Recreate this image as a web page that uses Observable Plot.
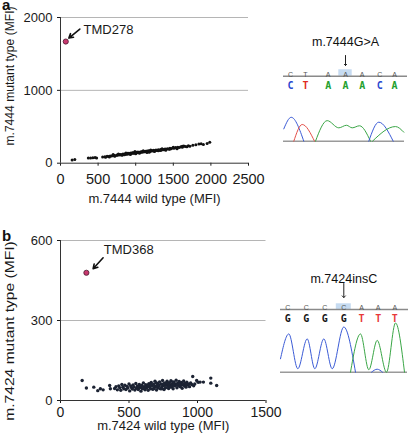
<!DOCTYPE html>
<html><head><meta charset="utf-8">
<script src="https://cdn.jsdelivr.net/npm/d3@7"></script>
<script src="https://cdn.jsdelivr.net/npm/@observablehq/plot@0.6"></script>
<style>
html,body{margin:0;padding:0;background:#fff;}
#fig{position:relative;width:408px;height:443px;overflow:hidden;font-family:"Liberation Sans",Arial,sans-serif;}
.lab{position:absolute;font-weight:bold;font-size:15px;line-height:15px;color:#111;}
.ytitle{position:absolute;white-space:nowrap;font-size:13px;line-height:13px;color:#1a1a1a;}
</style></head><body><div id="fig"></div>
<script>
const FONT = '"Liberation Sans", Arial, sans-serif';

// ---------- Panel a data ----------
const wildA = [155,190,370,400,430,460,480,560,590,600,
620,640,660,680,700,710,730,750,760,780,
790,800,815,830,840,850,860,875,880,895,
900,910,920,935,940,955,960,970,980,990,
1000,1010,1020,1030,1040,1050,1060,1070,1080,1090,
1100,1110,1120,1130,1140,1150,1160,1170,1180,1190,
1200,1215,1230,1240,1255,1270,1280,1300,1310,1330,
1345,1360,1375,1390,1400,1420,1440,1455,1470,1490,
1510,1530,1545,1560,1580,1600,1620,1640,1660,1700,
1720,1760,1800,1840,1870,1900,1950,1985,
650,720,770,820,870,930,990,1050,1100,1150,
1200,1250,1300,1350,1400,1450,1500,1550,1620,1680,
700,850,1000,1180,1330];
const mutantA = [45,50,72,70,75,78,72,85,90,82,
95,92,100,98,105,110,102,112,108,118,
112,120,115,125,118,128,122,130,124,135,
128,138,130,140,133,142,136,145,138,148,
142,150,145,155,146,152,148,158,150,160,
153,162,156,165,158,166,160,170,163,172,
165,175,168,178,170,182,175,185,178,188,
182,192,186,196,190,200,195,205,198,210,
204,215,208,220,214,225,218,235,228,240,
232,245,252,262,268,258,272,288,
85,95,125,108,140,120,160,135,172,148,
182,160,170,200,178,190,220,198,232,225,
120,115,130,150,175];
const xTicksA = [0,500,1000,1500,2000,2500];
const yTicksA = [0,1000,2000];
const outlierA = {label:"TMD278", wild:70, mutant:1670};
const noteA = {lx:307, ly:1832, tx:257, ty:1841, hx:111, hy:1718};

// ---------- Panel b data ----------
const wildB = [158,189,243,272,291,311,359,364,
395,405,415,425,432,440,448,455,462,470,
478,485,492,500,505,512,518,525,530,537,
543,550,555,562,568,575,580,587,593,598,
605,610,617,622,628,634,640,645,651,657,
662,668,673,679,685,690,696,701,707,712,
718,723,729,734,740,745,751,756,762,767,
773,778,784,789,795,800,806,811,817,822,
828,833,839,844,850,855,861,866,872,877,
883,888,894,899,905,910,916,922,928,935,
942,950,958,965,972,
560,590,620,650,680,700,720,745,760,790,
815,830,860,880,900,920,640,610,660,700,
740,780,820,850,870,640,680,710,755,795,825,
980,994,1005,1019,1043,1097,1097,1140];
const mutantB = [75,47,50,37,44,40,56,44,
45,52,40,55,48,38,60,50,44,57,
41,53,47,62,36,55,49,43,58,51,
39,64,46,54,41,60,49,35,57,44,
66,52,40,59,47,55,38,63,50,44,
68,56,42,61,49,72,53,39,64,47,
58,70,44,62,51,75,56,41,66,48,
60,72,53,45,67,58,74,50,63,44,
69,55,60,76,48,65,57,71,52,62,
68,46,59,73,55,64,50,69,58,62,
52,66,60,90,55,
50,52,48,55,58,50,54,60,57,62,
55,64,60,57,62,60,52,45,60,66,
44,65,70,58,62,58,44,56,63,50,58,
62,75,68,69,69,84,65,56];
const xTicksB = [0,500,1000,1500];
const yTicksB = [0,300,600];
const outlierB = {label:"TMD368", wild:189, mutant:479};
const noteB = {lx:316, ly:565, tx:311, ty:535, hx:238, hy:494};

// ---------- Sequencing insets ----------
const refA = ["C","T","A","A","A","C","A"];
const callA = ["C","T","A","A","A","C","A"];
const scanA = [10,25,47.7,65,81.7,99.3,114];
const mutIdxA = 3, mutTitleA = "m.7444G>A";
const blueA1 = [[3.3,48],[10.7,93],[23.3,0]];
const redA1 = [[13.3,0],[21.7,65],[34,0]];
const greenA1 = [[35,0],[46.7,80],[58.3,52],[66,62],[71.7,52],[79,60],[90,0]];
const blueA2 = [[88.3,0],[98.3,74],[112.7,0]];
const greenA2 = [[92,0],[115,57],[123.3,35]];

const refB = ["C","C","C","C","A","A","A"];
const callB = ["G","G","G","G","T","T","T"];
const scanB = [9.3,27.7,46.3,65.3,83,99.7,116.3];
const mutIdxB = 3, mutTitleB = "m.7424insC";
const blueB1 = [[2,27],[10.3,77],[19.3,7],[28.7,67],[36.3,7],[45.3,67],[53.7,7],[65.3,91],[77,0]];
const greenB1 = [[72,0],[82,77],[90.3,5],[98.7,64],[108,0],[117,99],[126,0]];
const blueB2 = [[93,0],[98.7,6],[104,0]];

const traceColor = {blue:"#3b5bd6", red:"#e4504a", green:"#3aa646"};
const callColorA = {C:"#2a48d0", T:"#e02a24", A:"#23a02e", G:"#111"};
const callColorB = {C:"#2a48d0", T:"#e8383a", A:"#23a02e", G:"#151515"};

// ---------- build ----------
const fig = document.getElementById("fig");
function place(el, left, top){ el.style.position="absolute"; el.style.left=left+"px"; el.style.top=top+"px"; fig.appendChild(el); }

function scatter(o){
  const pts = o.wild.map((x,i)=>({x, y:o.mutant[i]}));
  const out = [{x:o.outlier.wild, y:o.outlier.mutant}];
  const note = [{...o.note, label:o.outlier.label}];
  return Plot.plot({
    width:o.width, height:o.height,
    marginLeft:60, marginRight:o.mr, marginTop:o.mt, marginBottom:o.mb,
    style:{background:"transparent", fontFamily:FONT, fontSize:"13px", color:"#1a1a1a", overflow:"visible"},
    x:{domain:[0, o.xTicks[o.xTicks.length-1]]},
    y:{domain:[0, o.yTicks[o.yTicks.length-1]]},
    marks:[
      Plot.gridY(o.yTicks.slice(1), {stroke:"#b5b5b5", strokeOpacity:1}),
      Plot.axisX(o.xTicks, {tickSize:3, tickPadding:o.xPad, label:null, fontSize:o.xFont, tickFormat:d=>String(d)}),
      Plot.axisY(o.yTicks, {tickSize:3, tickPadding:5, label:null, fontSize:13, tickFormat:d=>String(d)}),
      Plot.ruleX([0], {stroke:"#333"}),
      Plot.ruleY([0], {stroke:"#333"}),
      Plot.dot(pts, {x:"x", y:"y", r:o.r, fill:o.dotColor}),
      Plot.arrow(note, {x1:"tx", y1:"ty", x2:"hx", y2:"hy", stroke:"#111", strokeWidth:1.6, headLength:6}),
      Plot.dot(out, {x:"x", y:"y", r:2.6, fill:"#c8386e", stroke:"#4a1a30", strokeWidth:0.8}),
      Plot.text(note, {x:"lx", y:"ly", text:"label", textAnchor:"start", fontSize:13}),
      Plot.text([o.xTitle], {frameAnchor:"bottom", dy:o.xTitleDy, fontSize:13})
    ]
  });
}

function yTitle(text, cx, cy, stretch){
  const d = document.createElement("div");
  d.className = "ytitle"; d.textContent = text;
  d.style.transform = `translate(-50%,-50%) rotate(-90deg) scaleX(${stretch})`;
  place(d, cx, cy);
}

place(scatter({wild:wildA, mutant:mutantA, xTicks:xTicksA, yTicks:yTicksA, outlier:outlierA, note:noteA,
  width:270, height:215, mr:22, mt:17, mb:52.3, xPad:8, xFont:14.5, r:1.5, dotColor:"#111",
  xTitle:"m.7444 wild type (MFI)", xTitleDy:40}), 0, 0);

place(scatter({wild:wildB, mutant:mutantB, xTicks:xTicksB, yTicks:yTicksB, outlier:outlierB, note:noteB,
  width:290, height:221, mr:24.5, mt:18, mb:43, xPad:4, xFont:14, r:1.7, dotColor:"#1c2333",
  xTitle:"m.7424 wild type (MFI)", xTitleDy:29.5}), 0, 222);

yTitle("m.7444 mutant type (MFI)", 8.5, 76, 0.93);
yTitle("m.7424 mutant type (MFI)", 8.5, 331, 1.2);

function inset(o){
  const letters = o.ref.map((r,i)=>({ref:r, call:o.call[i], pos:o.scan[i]}));
  const mut = [letters[o.mutIdx]];
  const rows = [];
  o.traces.forEach((t,k)=>t.pts.forEach(([s,v])=>rows.push({s, v, seg:k, c:traceColor[t.color]})));
  return Plot.plot({
    width:o.width, height:o.height, marginLeft:0, marginRight:0, marginTop:o.mt, marginBottom:o.mb,
    style:{background:"transparent", fontFamily:FONT, overflow:"visible"},
    x:{domain:[0,o.width], range:[0,o.width], axis:null},
    y:{domain:[0,100], axis:null},
    color:{type:"identity"},
    marks:[
      Plot.rect(mut, {x1:d=>d.pos-o.hw, x2:d=>d.pos+o.hw, y1:0, y2:o.hh, dy:o.lineDy, fill:"#c6dbf1"}),
      Plot.ruleY([0], {x1:o.lineX[0], x2:o.lineX[1], dy:o.lineDy, stroke:"#8a8a8a", strokeWidth:1.5}),
      Plot.ruleY([0], {x1:o.baseX[0], x2:o.baseX[1], stroke:"#9a9a9a", strokeWidth:1.5}),
      Plot.line(rows, {x:"s", y:"v", z:"seg", stroke:"c", curve:"monotone-x", strokeWidth:1}),
      Plot.text(letters, {x:"pos", text:"ref", frameAnchor:"top", dy:o.refDy, fontSize:7, fill:"#555"}),
      Plot.text(letters, {x:"pos", text:"call", frameAnchor:"top", dy:o.callDy, fontSize:10, fontWeight:"bold",
        fontFamily:"DejaVu Sans Mono", fill:d=>o.callColor[d.call]}),
      Plot.text(mut, {x:"pos", text:()=>o.title, frameAnchor:"top", dy:o.titleDy, fontSize:12.5, fill:"#111"}),
      Plot.vector(mut, {x:"pos", frameAnchor:"top", dy:o.arrowDy, length:o.arrowLen, rotate:180, anchor:"start",
        r:2, stroke:"#222", strokeWidth:1})
    ]
  });
}

place(inset({ref:refA, call:callA, scan:scanA, mutIdx:mutIdxA, title:mutTitleA, callColor:callColorA,
  traces:[{color:"blue",pts:blueA1},{color:"red",pts:redA1},{color:"green",pts:greenA1},{color:"blue",pts:blueA2},{color:"green",pts:greenA2}],
  width:128, height:121, mt:90, mb:5.3, hw:6.7, hh:25, lineDy:-65, lineX:[3,127], baseX:[3,124],
  refDy:-43, callDy:-34, titleDy:-78.3, arrowDy:-60, arrowLen:10}), 280, 25);

place(inset({ref:refB, call:callB, scan:scanB, mutIdx:mutIdxB, title:mutTitleB, callColor:callColorB,
  traces:[{color:"blue",pts:blueB1},{color:"green",pts:greenB1},{color:"blue",pts:blueB2}],
  width:130, height:112, mt:60, mb:2.3, hw:7.5, hh:11.5, lineDy:-62.7, lineX:[2,130], baseX:[2,129],
  refDy:-17, callDy:-8, titleDy:-48.5, arrowDy:-39, arrowLen:14}), 278, 262);

// panel letters
const la = document.createElement("div"); la.className="lab"; la.textContent="a"; place(la, 2, -3.5);
const lb = document.createElement("div"); lb.className="lab"; lb.textContent="b"; place(lb, 2, 228.3);
</script></body></html>
